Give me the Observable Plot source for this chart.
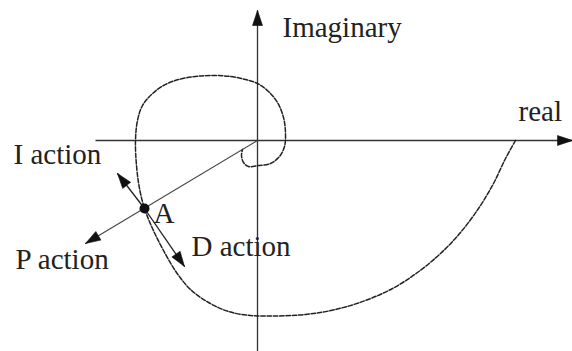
<!DOCTYPE html>
<html>
<head>
<meta charset="utf-8">
<script src="https://cdn.jsdelivr.net/npm/d3@7"></script>
<script src="https://cdn.jsdelivr.net/npm/@observablehq/plot@0.6"></script>
<style>
  html, body { margin: 0; padding: 0; background: #fff; }
  #chart svg { display: block; }
</style>
</head>
<body>
<div id="chart"></div>
<script>
// Nyquist locus of the loop transfer function (real, imaginary parts)
const locusRe = [2.58, 2.48, 2.36, 2.21, 2.03, 1.83, 1.60, 1.35, 1.08, 0.78, 0.48, 0.18, -0.07, -0.29, -0.49, -0.67, -0.81, -0.94, -1.05, -1.13, -1.18, -1.21, -1.22, -1.20, -1.15, -1.06, -0.94, -0.79, -0.62, -0.45, -0.27, -0.12, 0.00, 0.11, 0.20, 0.26, 0.28, 0.27, 0.22, 0.13, 0.01, -0.09, -0.14, -0.16, -0.15];
const locusIm = [0.00, -0.18, -0.43, -0.68, -0.92, -1.13, -1.32, -1.48, -1.60, -1.69, -1.74, -1.755, -1.75, -1.71, -1.62, -1.49, -1.32, -1.10, -0.88, -0.68, -0.48, -0.25, 0.00, 0.20, 0.35, 0.46, 0.55, 0.61, 0.64, 0.65, 0.64, 0.61, 0.57, 0.49, 0.38, 0.23, 0.07, -0.06, -0.16, -0.23, -0.25, -0.26, -0.22, -0.15, -0.09];

// Operating point A on the locus
const pointA = {re: -1.13, im: -0.68};

// Axis extents
const realAxis = {from: -1.62, to: 3.15};
const imagAxis = {from: -2.11, to: 1.30};

// Directions of the controller actions from A (tip positions)
const pTip = {re: -1.72, im: -1.03};   // P action: along the ray from the origin
const iTip = {re: -1.40, im: -0.33};   // I action
const dTip = {re: -0.73, im: -1.26};   // D action

// Labels
const labelText = ["Imaginary", "real", "I action", "A", "D action", "P action"];
const labelRe   = [0.25, 2.61, -2.44, -1.04, -0.66, -2.42];
const labelIm   = [1.04, 0.20, -0.23, -0.82, -1.15, -1.28];

// Segments drawn as plain lines
const segments = [
  {id: "real", x1: realAxis.from, y1: 0, x2: realAxis.to, y2: 0, w: 1.3, c: "#333"},
  {id: "imag", x1: 0, y1: imagAxis.from, x2: 0, y2: imagAxis.to, w: 1.3, c: "#333"},
  {id: "P", x1: 0, y1: 0, x2: pTip.re, y2: pTip.im, w: 1.1, c: "#444"},
  {id: "I", x1: pointA.re, y1: pointA.im, x2: iTip.re, y2: iTip.im, w: 1.3, c: "#222"},
  {id: "D", x1: pointA.re, y1: pointA.im, x2: dTip.re, y2: dTip.im, w: 1.3, c: "#222"}
];

// Filled arrowheads built from each segment's direction
function head(s, len = 0.15, half = 0.05) {
  const dx = s.x2 - s.x1, dy = s.y2 - s.y1, n = Math.hypot(dx, dy);
  const ux = dx / n, uy = dy / n, bx = s.x2 - ux * len, by = s.y2 - uy * len;
  return [
    {id: s.id, x: s.x2, y: s.y2},
    {id: s.id, x: bx - uy * half, y: by + ux * half},
    {id: s.id, x: bx + uy * half, y: by - ux * half},
    {id: s.id, x: s.x2, y: s.y2}
  ];
}
const heads = segments.flatMap(s => head(s));

const locus = locusRe.map((re, i) => ({re, im: locusIm[i]}));
const labels = labelText.map((t, i) => ({t, re: labelRe[i], im: labelIm[i]}));

const chart = Plot.plot({
  width: 572,
  height: 351,
  margin: 0,
  style: {background: "#fff", fontFamily: "'Liberation Serif', 'Times New Roman', serif"},
  x: {domain: [-2.57, 3.15], axis: null},
  y: {domain: [-2.11, 1.40], axis: null},
  marks: [
    Plot.link(segments, {x1: "x1", y1: "y1", x2: "x2", y2: "y2", stroke: d => d.c, strokeWidth: d => d.w}),
    Plot.line(locus, {x: "re", y: "im", stroke: "#222", strokeWidth: 1.5, strokeDasharray: "4.5,1.8", curve: "catmull-rom"}),
    Plot.line(heads, {x: "x", y: "y", z: "id", fill: "#111", stroke: "#111", strokeWidth: 0.6}),
    Plot.dot([pointA], {x: "re", y: "im", r: 5, fill: "#111", stroke: "none"}),
    Plot.text(labels, {x: "re", y: "im", text: "t", textAnchor: "start", lineAnchor: "bottom", fontSize: 29, fill: "#222"})
  ]
});
document.getElementById("chart").appendChild(chart);
</script>
</body>
</html>
